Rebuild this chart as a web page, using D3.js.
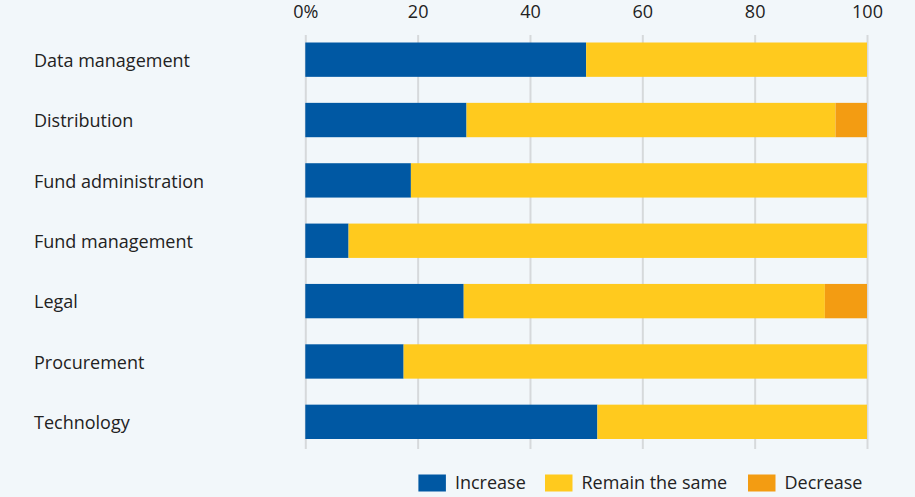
<!DOCTYPE html>
<html>
<head>
<meta charset="utf-8">
<script src="https://cdn.jsdelivr.net/npm/d3@7"></script>
<style>
  html, body { margin: 0; padding: 0; background: #f2f7fa; }
  svg { display: block; }
  text { font-family: "Open Sans", "Noto Sans", sans-serif; fill: #222; }
</style>
</head>
<body>
<svg id="chart" width="915" height="497"></svg>
<script>
// Functions and the share of respondents expecting each change
const categories = ["Data management", "Distribution", "Fund administration", "Fund management", "Legal", "Procurement", "Technology"];
const increase = [50, 28.7, 18.8, 7.7, 28.2, 17.5, 52];
const remainSame = [50, 65.7, 81.2, 92.3, 64.3, 82.5, 48];
const decrease = [0, 5.6, 0, 0, 7.5, 0, 0];
const seriesNames = ["Increase", "Remain the same", "Decrease"];
const seriesColors = ["#0058a3", "#ffca1e", "#f39c12"];
const tickValues = [0, 20, 40, 60, 80, 100];

const rows = categories.map((c, i) => ({
  category: c,
  "Increase": increase[i],
  "Remain the same": remainSame[i],
  "Decrease": decrease[i]
}));
const stacked = d3.stack().keys(seriesNames)(rows);

const svg = d3.select("#chart");
const x = d3.scaleLinear().domain([0, 100]).range([305.3, 867]);
const y = d3.scaleBand().domain(categories).range([42.5, 439]).paddingInner(0.431).paddingOuter(0);
const color = d3.scaleOrdinal().domain(seriesNames).range(seriesColors);

// Vertical gridlines with tick labels on top
const axis = d3.axisTop(x)
  .tickValues(tickValues)
  .tickSize(-(449 - 35))
  .tickFormat(d => d === 0 ? "0%" : d);
const gAxis = svg.append("g").attr("transform", "translate(0,35)").call(axis);
gAxis.select(".domain").remove();
gAxis.selectAll(".tick line").attr("stroke", "#d6d9db").attr("stroke-width", 2);
gAxis.selectAll(".tick text")
  .attr("y", -17)
  .attr("font-size", 18)
  .attr("fill", "#222");

// Stacked bars
svg.append("g").selectAll("g")
  .data(stacked)
  .join("g")
  .attr("fill", d => color(d.key))
  .selectAll("rect")
  .data(d => d.filter(s => s[1] - s[0] > 0))
  .join("rect")
  .attr("x", d => x(d[0]))
  .attr("y", d => y(d.data.category))
  .attr("width", d => x(d[1]) - x(d[0]))
  .attr("height", y.bandwidth());

// Category labels
svg.append("g").selectAll("text")
  .data(categories)
  .join("text")
  .attr("x", 34)
  .attr("y", d => y(d) + y.bandwidth() / 2 + 1)
  .attr("dy", "0.35em")
  .attr("font-size", 18)
  .text(d => d);

// Legend
const legendItems = [
  { name: "Increase", x: 418.4 },
  { name: "Remain the same", x: 545 },
  { name: "Decrease", x: 748 }
];
const lg = svg.append("g").selectAll("g")
  .data(legendItems)
  .join("g")
  .attr("transform", d => `translate(${d.x},474.5)`);
lg.append("rect")
  .attr("width", 27.5)
  .attr("height", 17)
  .attr("fill", d => color(d.name));
lg.append("text")
  .attr("x", 36.5)
  .attr("y", 8.5)
  .attr("dy", "0.35em")
  .attr("font-size", 18)
  .text(d => d.name);
</script>
</body>
</html>
